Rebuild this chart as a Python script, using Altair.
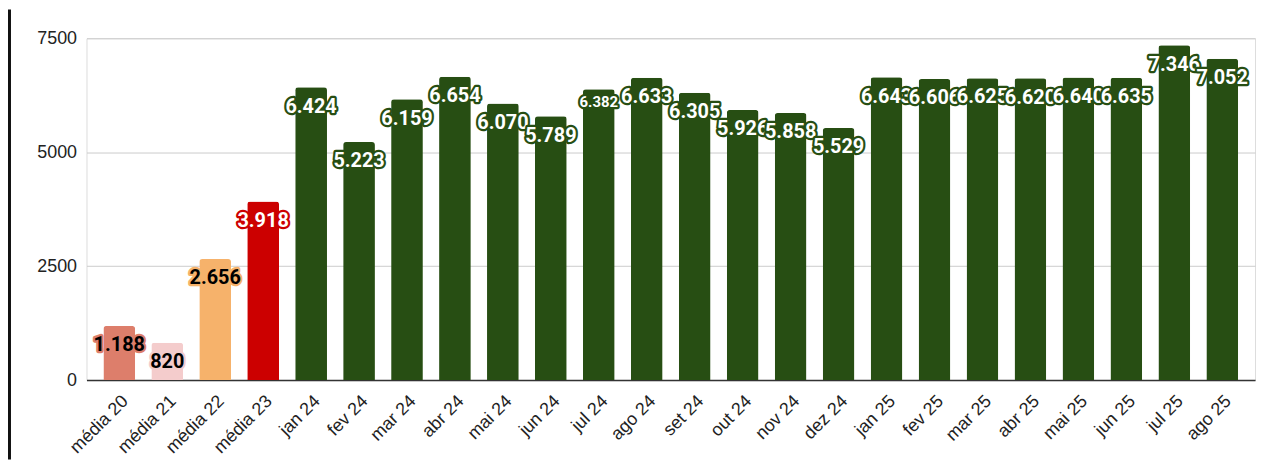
import altair as alt
import pandas as pd

categories = ["média 20", "média 21", "média 22", "média 23",
              "jan 24", "fev 24", "mar 24", "abr 24", "mai 24", "jun 24",
              "jul 24", "ago 24", "set 24", "out 24", "nov 24", "dez 24",
              "jan 25", "fev 25", "mar 25", "abr 25", "mai 25", "jun 25",
              "jul 25", "ago 25"]
values = [1188, 820, 2656, 3918,
          6424, 5223, 6159, 6654, 6070, 5789,
          6382, 6633, 6305, 5926, 5858, 5529,
          6643, 6606, 6625, 6620, 6640, 6635,
          7346, 7052]
y_ticks = [0, 2500, 5000, 7500]

GREEN = "#274e13"
bar_colors = ["#dd7e6b", "#f4cccc", "#f6b26b", "#cc0000"] + [GREEN] * 20
dark_text = ["média 20", "média 21", "média 22"]
small_label = "jul 24"

df = pd.DataFrame({"cat": categories, "value": values, "idx": list(range(len(categories)))})

W, H = 1176, 344

x_enc = alt.X("cat:N", sort=categories,
              scale=alt.Scale(paddingInner=0.337, paddingOuter=0.352),
              axis=alt.Axis(title=None, labelAngle=-45, labelAlign="right",
                            labelBaseline="top", labelPadding=12, labelFontSize=18,
                            labelFont="Liberation Sans", labelColor="#222222",
                            ticks=False, domainColor="#333333", domainWidth=1.5))
y_enc = alt.Y("value:Q", scale=alt.Scale(domain=[0, 7500], nice=False),
              axis=alt.Axis(values=y_ticks, format="d", title=None, grid=True,
                            gridColor="#cccccc", domain=False, ticks=False,
                            labelPadding=10, labelFontSize=18,
                            labelFont="Liberation Sans", labelColor="#222222"))
cscale = alt.Scale(domain=categories, range=bar_colors)

base = alt.Chart(df)
bars = base.mark_bar(cornerRadiusTopLeft=3, cornerRadiusTopRight=3).encode(
    x=x_enc, y=y_enc, color=alt.Color("cat:N", scale=cscale, legend=None))

dark_expr = " || ".join([f"datum.cat == '{c}'" for c in dark_text])

layers = [bars]
for i, c in enumerate(categories):
    small = (c == small_label)
    fs = 15 if small else 20
    dy = 13 if small else 19.5
    b = base.transform_filter(f"datum.idx == {i}").transform_calculate(
        label="replace(format(datum.value, ','), ',', '.')")
    halo = b.mark_text(dy=dy, baseline="middle", align="center", font="Roboto",
                       fontWeight="bold", fontSize=fs, strokeWidth=4.5,
                       strokeJoin="round").encode(
        x=alt.X("cat:N", sort=categories),
        y="value:Q",
        text="label:N",
        stroke=alt.Stroke("cat:N", scale=cscale, legend=None),
        fill=alt.Fill("cat:N", scale=cscale, legend=None))
    front = b.mark_text(dy=dy, baseline="middle", align="center", font="Roboto",
                        fontWeight="bold", fontSize=fs).encode(
        x=alt.X("cat:N", sort=categories),
        y="value:Q",
        text="label:N",
        fill=alt.condition(dark_expr, alt.value("#000000"), alt.value("#ffffff")))
    layers += [halo, front]

border = alt.Chart(pd.DataFrame({"a": [0]})).mark_rule(color="#111111", strokeWidth=3).encode(
    x=alt.value(-77.5), y=alt.value(-29), y2=alt.value(H + 80))
layers.append(border)

chart = alt.layer(*layers).properties(
    width=W, height=H,
    autosize=alt.AutoSizeParams(type="none"),
    padding={"left": 79, "top": 29, "right": 3, "bottom": 80},
).configure_view(stroke=None).configure(background="white")

chart.save("out.html", embed_options={"renderer": "svg", "actions": False})
